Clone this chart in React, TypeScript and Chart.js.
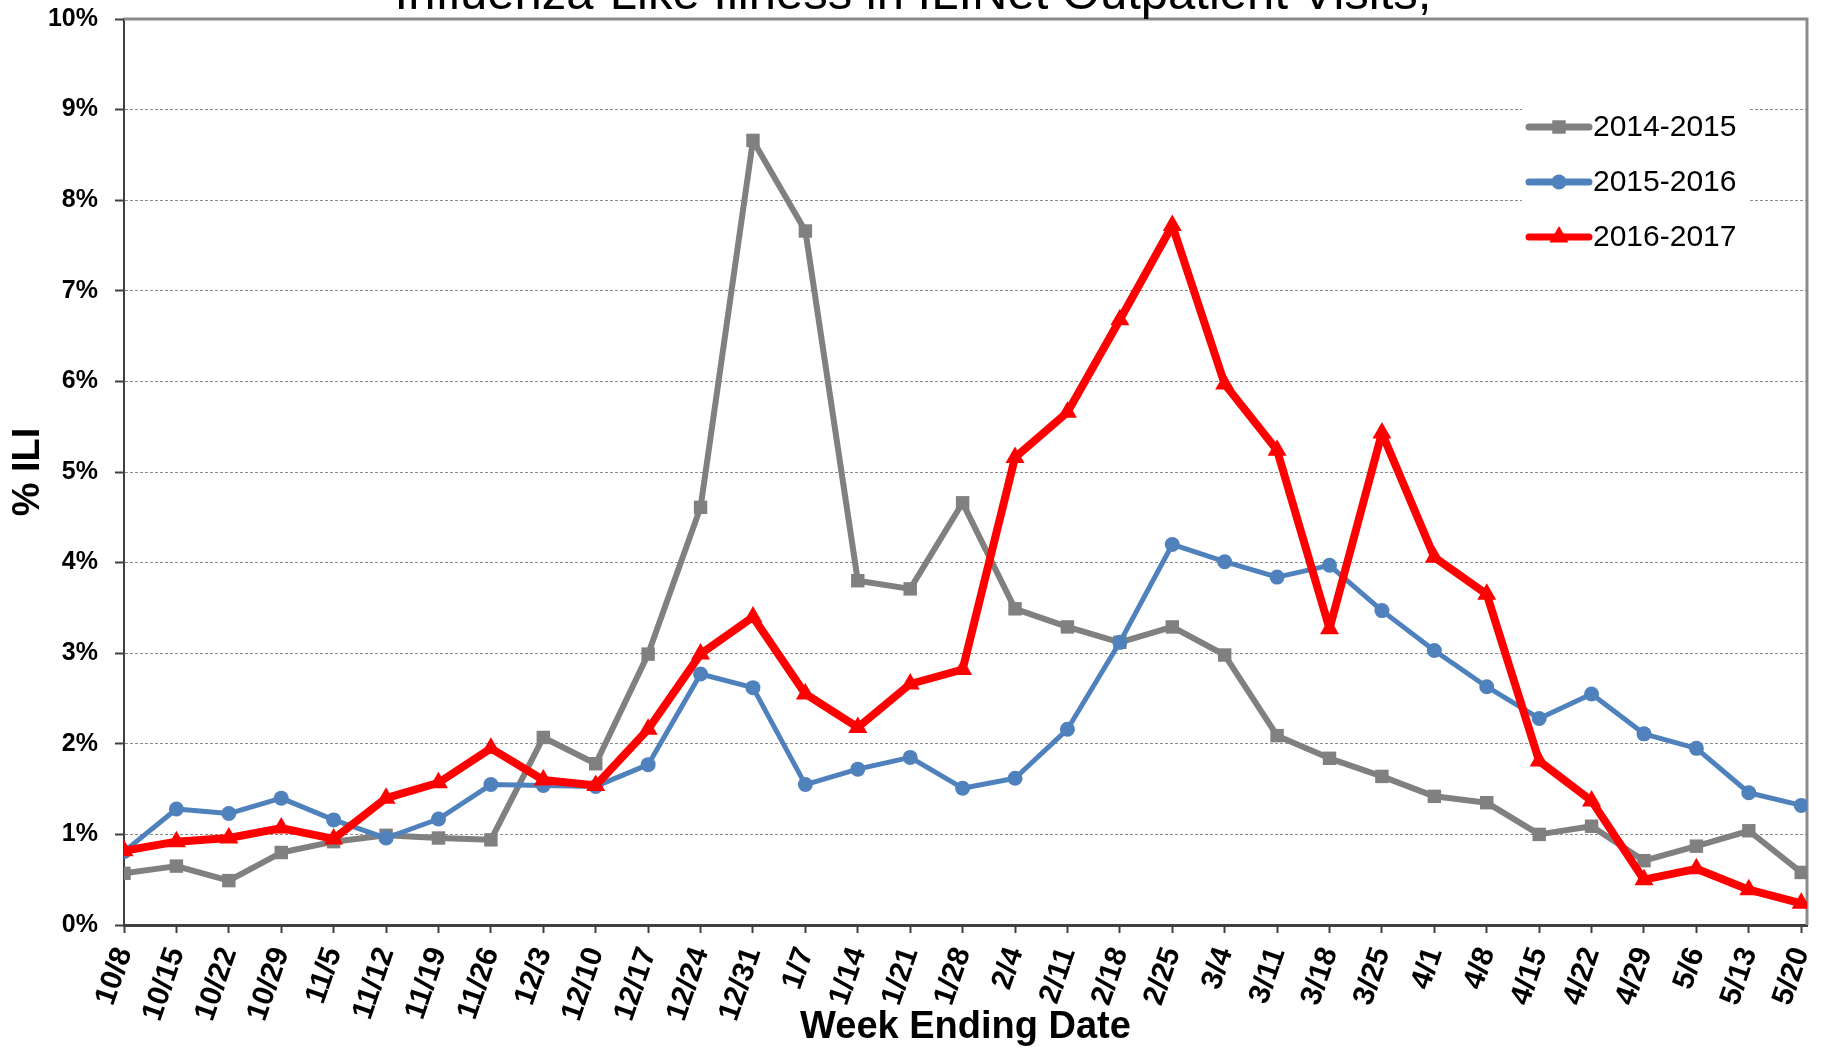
import { useEffect, useRef } from 'react';
import { Chart, registerables } from 'chart.js';

Chart.register(...registerables);

const FONT = '"Liberation Sans", Arial, Helvetica, sans-serif';

const weekLabels = [
  '10/8', '10/15', '10/22', '10/29', '11/5', '11/12', '11/19', '11/26',
  '12/3', '12/10', '12/17', '12/24', '12/31', '1/7', '1/14', '1/21', '1/28',
  '2/4', '2/11', '2/18', '2/25', '3/4', '3/11', '3/18', '3/25', '4/1', '4/8',
  '4/15', '4/22', '4/29', '5/6', '5/13', '5/20',
];

const season1415 = [
  0.57, 0.65, 0.49, 0.8, 0.92, 0.99, 0.96, 0.94, 2.07, 1.78, 2.99, 4.61, 8.66,
  7.66, 3.8, 3.71, 4.66, 3.49, 3.29, 3.12, 3.29, 2.98, 2.09, 1.84, 1.64, 1.42,
  1.35, 1.0, 1.09, 0.71, 0.87, 1.04, 0.58,
];

const season1516 = [
  0.81, 1.28, 1.23, 1.4, 1.16, 0.96, 1.17, 1.55, 1.54, 1.53, 1.77, 2.77, 2.62,
  1.55, 1.72, 1.85, 1.51, 1.62, 2.16, 3.12, 4.2, 4.01, 3.84, 3.97, 3.47, 3.03,
  2.63, 2.28, 2.55, 2.11, 1.95, 1.46, 1.32,
];

const season1617 = [
  0.82, 0.92, 0.96, 1.07, 0.95, 1.4, 1.57, 1.95, 1.6, 1.54, 2.16, 2.99, 3.4,
  2.55, 2.18, 2.66, 2.82, 5.16, 5.66, 6.68, 7.72, 5.97, 5.24, 3.27, 5.43, 4.06,
  3.65, 1.81, 1.37, 0.5, 0.62, 0.39, 0.24,
];

const seriesNames = ['2014-2015', '2015-2016', '2016-2017'];
const seriesColors = ['#808080', '#4f81bd', '#ff0000'];

const titleText = 'Influenza-Like Illness in ILINet Outpatient Visits,';

const toPoints = (arr: number[]) => arr.map((y, i) => ({ x: i, y }));

const drawMarker = (ctx: CanvasRenderingContext2D, style: string, x: number, y: number, r: number) => {
  ctx.beginPath();
  if (style === 'rect') {
    const s = r / Math.SQRT2;
    ctx.rect(x - s, y - s, 2 * s, 2 * s);
  } else if (style === 'triangle') {
    ctx.moveTo(x, y - r);
    ctx.lineTo(x + r * Math.sin((2 * Math.PI) / 3), y - r * Math.cos((2 * Math.PI) / 3));
    ctx.lineTo(x + r * Math.sin((4 * Math.PI) / 3), y - r * Math.cos((4 * Math.PI) / 3));
    ctx.closePath();
  } else {
    ctx.arc(x, y, r, 0, Math.PI * 2);
  }
  ctx.fill();
};

const framePlugin = {
  id: 'frameAndLegend',
  beforeDatasetsDraw(chart: any) {
    const { ctx, chartArea } = chart;
    const { top, right, bottom, left } = chartArea;
    ctx.save();
    // top & right frame
    ctx.strokeStyle = '#8a8a8a';
    ctx.lineWidth = 3;
    ctx.beginPath();
    ctx.moveTo(left, top);
    ctx.lineTo(right, top);
    ctx.lineTo(right, bottom);
    ctx.stroke();

    // legend box
    ctx.fillStyle = '#ffffff';
    ctx.fillRect(right - 285, top + 76, 226, 170);
    const rows = [top + 108, top + 163, top + 218];
    chart.data.datasets.forEach((ds: any, i: number) => {
      const y = rows[i];
      const x0 = right - 278;
      const x1 = right - 218;
      ctx.strokeStyle = ds.borderColor;
      ctx.lineWidth = 7;
      ctx.lineCap = 'round';
      ctx.beginPath();
      ctx.moveTo(x0, y);
      ctx.lineTo(x1, y);
      ctx.stroke();
      ctx.fillStyle = ds.borderColor;
      drawMarker(ctx, ds.pointStyle, (x0 + x1) / 2, y, ds.pointRadius);
      ctx.fillStyle = '#000';
      ctx.font = `30px ${FONT}`;
      ctx.textAlign = 'left';
      ctx.textBaseline = 'middle';
      ctx.fillText(ds.label, right - 214, y + 1);
    });
    ctx.restore();
  },
  afterDraw(chart: any) {
    const { ctx } = chart;
    ctx.save();
    ctx.fillStyle = '#000';
    ctx.font = `49px ${FONT}`;
    ctx.textAlign = 'center';
    ctx.textBaseline = 'alphabetic';
    ctx.fillText(titleText, chart.width / 2 + 2, 9);
    ctx.restore();
  },
};

export default function App() {
  const canvasRef = useRef<HTMLCanvasElement | null>(null);

  useEffect(() => {
    document.body.style.margin = '0';
    const canvas = canvasRef.current;
    if (!canvas) return;
    const chart = new Chart(canvas, {
      type: 'line',
      data: {
        datasets: [
          {
            label: seriesNames[0],
            data: toPoints(season1415),
            borderColor: seriesColors[0],
            backgroundColor: seriesColors[0],
            borderWidth: 6,
            pointStyle: 'rect',
            pointRadius: 9.5,
            pointBorderWidth: 0,
            order: 2,
          },
          {
            label: seriesNames[1],
            data: toPoints(season1516),
            borderColor: seriesColors[1],
            backgroundColor: seriesColors[1],
            borderWidth: 5,
            pointStyle: 'circle',
            pointRadius: 7.5,
            pointBorderWidth: 0,
            order: 1,
          },
          {
            label: seriesNames[2],
            data: toPoints(season1617),
            borderColor: seriesColors[2],
            backgroundColor: seriesColors[2],
            borderWidth: 8,
            pointStyle: 'triangle',
            pointRadius: 11,
            pointBorderWidth: 0,
            order: 0,
          },
        ],
      } as any,
      options: {
        animation: false,
        responsive: false,
        maintainAspectRatio: false,
        layout: { padding: { top: 19, right: 15, bottom: 0, left: 0 } },
        elements: {
          line: { tension: 0, borderJoinStyle: 'round', borderCapStyle: 'round' },
        },
        plugins: {
          legend: { display: false },
          title: { display: false },
          tooltip: { enabled: false },
        },
        scales: {
          x: {
            type: 'linear',
            min: 0,
            max: 32.11,
            afterBuildTicks: (scale: any) => {
              scale.ticks = weekLabels.map((_, i) => ({ value: i }));
            },
            afterFit: (scale: any) => {
              scale.height = 125;
              scale.paddingLeft = 0;
              scale.paddingRight = 0;
            },
            ticks: {
              autoSkip: false,
              minRotation: 71,
              maxRotation: 71,
              padding: 10,
              color: '#000',
              font: { family: FONT, size: 30, weight: 'bold' },
              callback: (v: any) => weekLabels[v as number],
            },
            grid: {
              drawOnChartArea: false,
              drawTicks: true,
              tickLength: 8,
              tickColor: '#404040',
              tickWidth: 2,
            },
            border: { color: '#404040', width: 3 },
            title: {
              display: true,
              text: 'Week Ending Date',
              color: '#000',
              font: { family: FONT, size: 38, weight: 'bold' },
              padding: { top: 0, bottom: 0 },
            },
          },
          y: {
            min: 0,
            max: 10,
            afterFit: (scale: any) => {
              scale.width = 124;
              scale.paddingTop = 0;
              scale.paddingBottom = 0;
            },
            ticks: {
              stepSize: 1,
              padding: 17,
              color: '#000',
              font: { family: FONT, size: 25, weight: 'bold' },
              callback: (v: any) => `${v}%`,
            },
            grid: {
              color: (c: any) =>
                c.tick && (c.tick.value === 0 || c.tick.value === 10) ? 'rgba(0,0,0,0)' : '#8a8a8a',
              lineWidth: 1,
              drawTicks: true,
              tickLength: 9,
              tickColor: '#404040',
              tickWidth: 2,
            },
            border: { color: '#404040', width: 2, dash: [3, 2] },
            title: {
              display: true,
              text: '% ILI',
              color: '#000',
              font: { family: FONT, size: 38, weight: 'bold' },
              padding: { top: 6, bottom: 0 },
            },
          },
        },
      } as any,
      plugins: [framePlugin],
    });
    return () => chart.destroy();
  }, []);

  return (
    <div style={{ position: 'absolute', left: 0, top: 0, width: 1822, height: 1050, background: '#fff' }}>
      <canvas ref={canvasRef} width={1822} height={1050} style={{ width: 1822, height: 1050, display: 'block' }} />
    </div>
  );
}
